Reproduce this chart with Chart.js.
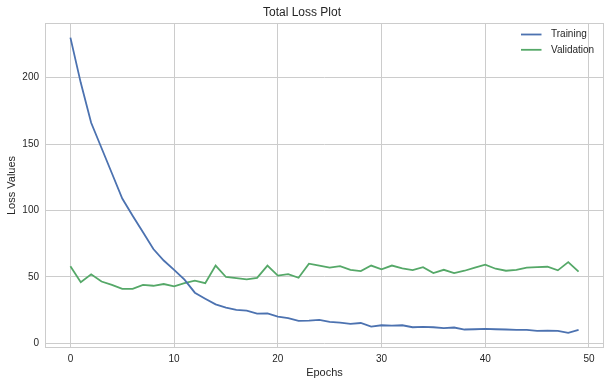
<!DOCTYPE html>
<html>
<head>
<meta charset="utf-8">
<script src="https://cdn.jsdelivr.net/npm/chart.js@4/dist/chart.umd.min.js"></script>
<style>
  html, body { margin: 0; padding: 0; background: #ffffff; }
  canvas { display: block; }
</style>
</head>
<body>
<canvas id="c" width="610" height="386"></canvas>
<script>
const epochs = [0,1,2,3,4,5,6,7,8,9,10,11,12,13,14,15,16,17,18,19,20,21,22,23,24,25,26,27,28,29,30,31,32,33,34,35,36,37,38,39,40,41,42,43,44,45,46,47,48,49];
const trainingLoss = [230,196,166,147,128,109,96,83.6,71,62.4,55.4,48,38.2,33.7,29.4,27,25.2,24.7,22.5,22.7,20.2,19,17,17.2,17.7,16.2,15.7,14.7,15.4,12.7,13.7,13.5,13.7,12.2,12.5,12.2,11.5,12,10.5,10.7,11,10.7,10.5,10.3,10.2,9.5,9.7,9.5,8,10.2];
const validationLoss = [58,46,52,46.6,44,41,41,44,43.4,44.7,43,45.4,47.2,45.4,58.6,50,49.2,48.2,49.4,58.6,51,52.2,49.4,60,58.6,57,58.2,55.4,54.4,58.6,55.7,58.6,56.4,55.2,57.4,52.9,55.4,52.9,54.7,57,59.2,56.2,54.7,55.4,57,57.4,57.7,55,61.2,54];
const xTicks = [0,10,20,30,40,50];
const yTicks = [0,50,100,150,200];
const seriesNames = ['Training','Validation'];
const titleText = 'Total Loss Plot';
const xLabel = 'Epochs';
const yLabel = 'Loss Values';

const TEXT = '#262626';
const GRID = '#cccccc';
const FONT = 'Liberation Sans, Arial, sans-serif';

const toPoints = vals => epochs.map((e, i) => ({ x: e, y: vals[i] }));

const frame = {
  id: 'frame',
  beforeDatasetsDraw(chart) {
    const { ctx, chartArea: a } = chart;
    ctx.save();
    ctx.strokeStyle = GRID;
    ctx.lineWidth = 1;
    ctx.strokeRect(Math.round(a.left) + 0.5, Math.round(a.top) + 0.5,
                   Math.round(a.right - a.left) - 1, Math.round(a.bottom - a.top) - 1);
    ctx.restore();
  }
};

const innerLegend = {
  id: 'innerLegend',
  afterDatasetsDraw(chart) {
    const { ctx, chartArea: a } = chart;
    ctx.save();
    ctx.font = '10px ' + FONT;
    ctx.textBaseline = 'middle';
    ctx.textAlign = 'left';
    chart.data.datasets.forEach((ds, i) => {
      const y = a.top + 11.5 + i * 15.3;
      const x0 = a.right - 83;
      ctx.strokeStyle = ds.borderColor;
      ctx.lineWidth = 1.8;
      ctx.beginPath();
      ctx.moveTo(x0, y);
      ctx.lineTo(x0 + 20.5, y);
      ctx.stroke();
      ctx.fillStyle = TEXT;
      ctx.fillText(ds.label, x0 + 30, y);
    });
    ctx.restore();
  }
};

new Chart(document.getElementById('c'), {
  type: 'line',
  data: {
    datasets: [
      { label: seriesNames[0], data: toPoints(trainingLoss), borderColor: '#4C72B0', backgroundColor: '#4C72B0', borderWidth: 1.8, pointRadius: 0, tension: 0, fill: false },
      { label: seriesNames[1], data: toPoints(validationLoss), borderColor: '#55A868', backgroundColor: '#55A868', borderWidth: 1.8, pointRadius: 0, tension: 0, fill: false }
    ]
  },
  options: {
    responsive: false,
    animation: false,
    devicePixelRatio: 1,
    layout: { padding: { left: 0, right: 6, top: 0, bottom: 0 } },
    plugins: {
      legend: { display: false },
      tooltip: { enabled: false },
      title: {
        display: true,
        text: titleText,
        color: TEXT,
        font: { family: FONT, size: 12, weight: 'normal', lineHeight: 1.2 },
        padding: { top: 5, bottom: 3.6 }
      }
    },
    scales: {
      x: {
        type: 'linear',
        min: -2.45,
        max: 51.45,
        afterFit(s) { s.height = 38; },
        afterBuildTicks(s) { s.ticks = xTicks.map(v => ({ value: v })); },
        ticks: { color: TEXT, font: { family: FONT, size: 10 }, padding: 5, includeBounds: false, maxRotation: 0 },
        grid: { color: GRID, lineWidth: 1, drawTicks: false },
        border: { display: false },
        title: { display: true, text: xLabel, color: TEXT, font: { family: FONT, size: 11, lineHeight: 1.2 }, padding: { top: 0, bottom: 6.4 } }
      },
      y: {
        type: 'linear',
        min: -3.4,
        max: 241,
        afterFit(s) { s.width = 45; },
        afterBuildTicks(s) { s.ticks = yTicks.map(v => ({ value: v })); },
        ticks: { color: TEXT, font: { family: FONT, size: 10 }, padding: 6, includeBounds: false },
        grid: { color: GRID, lineWidth: 1, drawTicks: false },
        border: { display: false },
        title: { display: true, text: yLabel, color: TEXT, font: { family: FONT, size: 11, lineHeight: 1.2 }, padding: { top: 5.4, bottom: 0 } }
      }
    }
  },
  plugins: [frame, innerLegend]
});
</script>
</body>
</html>
